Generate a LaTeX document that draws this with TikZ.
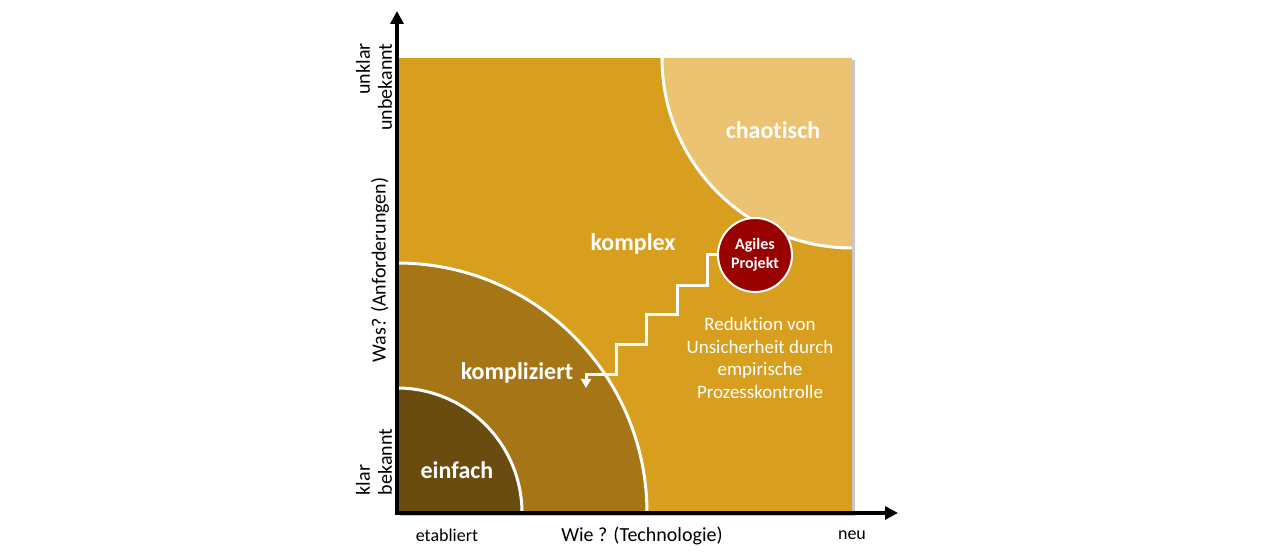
\documentclass[tikz,border=0pt]{standalone}
\usepackage{fontspec}
\setmainfont{Carlito}[Ligatures=NoCommon]
\usetikzlibrary{arrows.meta}
\definecolor{komplexcol}{RGB}{216,158,30}
\definecolor{kompliziertcol}{RGB}{165,117,22}
\definecolor{einfachcol}{RGB}{107,76,16}
\definecolor{chaoscol}{RGB}{235,195,114}
\definecolor{agilcol}{RGB}{153,0,0}
\tikzset{
  zone/.style={font=\fontsize{24}{26}\selectfont\bfseries, text=white},
  axislabel/.style={font=\fontsize{20}{22}\selectfont},
  ticklabel/.style={font=\fontsize{18}{20}\selectfont},
  boundary/.style={white, line width=3pt},
  axisline/.style={line width=4pt, {Triangle[length=13pt,width=13pt]}-{Triangle[length=13pt,width=13pt]}},
  stairs/.style={white, line width=3pt, -{Triangle[length=9pt,width=10pt]}},
}
\begin{document}
\begin{tikzpicture}[x=1pt,y=1pt]
\useasboundingbox (-397,-43) rectangle (883,513);
% Felder
\fill[black!22] (3,-3) rectangle (458,453);
\fill[komplexcol] (0,0) rectangle (455,455);
\fill[kompliziertcol] (0,0) -- (250,0) arc[start angle=0, end angle=90, radius=250] -- cycle;
\fill[einfachcol] (0,0) -- (125,0) arc[start angle=0, end angle=90, radius=125] -- cycle;
\fill[chaoscol] (455,455) -- (265,455) arc[start angle=180, end angle=270, radius=190] -- cycle;
\draw[boundary] (250,0) arc[start angle=0, end angle=90, radius=250];
\draw[boundary] (125,0) arc[start angle=0, end angle=90, radius=125];
\draw[boundary] (265,455) arc[start angle=180, end angle=270, radius=190];
% Achsen
\coordinate (origin) at (0,0);
\coordinate (ytip) at (0,502);
\coordinate (xtip) at (501,0);
\draw[axisline] (ytip) -- (origin) -- (xtip);
% Beschriftungen
\node[zone] at (236,269) (komplex) {komplex};
\node[zone] at (120,140) (kompliziert) {kompliziert};
\node[zone] at (60,43) (einfach) {einfach};
\node[zone] at (376,383) (chaotisch) {chaotisch};
\node[circle, fill=agilcol, draw=white, line width=2pt, minimum size=74pt, inner sep=0pt,
  text=white, align=center, font=\fontsize{16}{19}\selectfont\bfseries] at (358,258) (agil) {Agiles\\Projekt};
\node[text=white, align=center, font=\fontsize{19}{22.7}\selectfont] at (363,155) (reduktion)
  {Reduktion von\\Unsicherheit durch\\empirische\\Prozesskontrolle};
\draw[stairs] (agil.west) -- ++(-10,0) -- ++(0,-31) -- ++(-30,0) -- ++(0,-29)
  -- ++(-31,0) -- ++(0,-30) -- ++(-30,0) -- ++(0,-30) -- ++(-30,0) -- ++(0,-13);
\node[axislabel] at (245,-23) (wie) {Wie ? (Technologie)};
\node[ticklabel] at (50,-22) (etabliert) {etabliert};
\node[ticklabel] at (455,-22) (neu) {neu};
\node[axislabel, rotate=90] at (-17,243) (was) {Was? (Anforderungen)};
\node[axislabel, rotate=90, align=right] at (-23,426) (unklar) {unklar\\unbekannt};
\node[axislabel, rotate=90, align=left] at (-23,51) (klar) {klar\\bekannt};
\end{tikzpicture}
\end{document}
